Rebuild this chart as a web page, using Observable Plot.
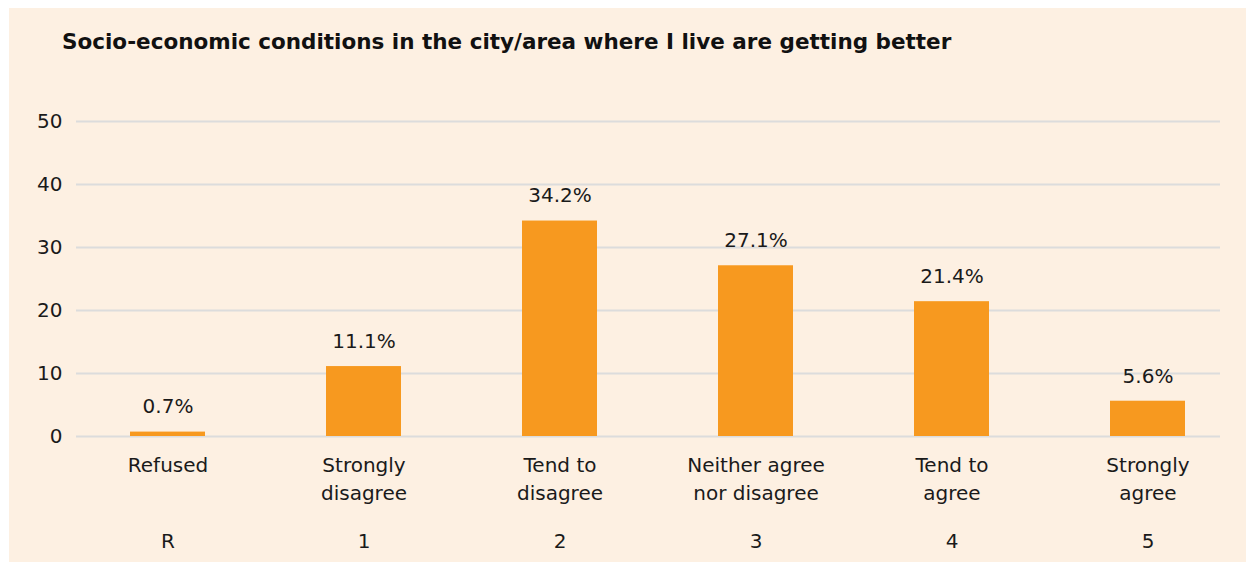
<!DOCTYPE html>
<html>
<head>
<meta charset="utf-8">
<script src="https://cdn.jsdelivr.net/npm/d3@7"></script>
<script src="https://cdn.jsdelivr.net/npm/@observablehq/plot@0.6"></script>
<style>
  html, body { margin: 0; padding: 0; background: #ffffff; }
  #panel { position: absolute; left: 9px; top: 8px; width: 1237px; height: 554px; background: #FDF0E2; overflow: hidden; }
  #title { position: absolute; left: 53px; top: 21px; font-family: "DejaVu Sans", sans-serif; font-weight: 700; font-size: 21.5px; color: #111; white-space: nowrap; }
  #chart { position: absolute; left: 0; top: 72px; }
</style>
</head>
<body>
<div id="panel">
  <div id="title">Socio-economic conditions in the city/area where I live are getting better</div>
  <div id="chart"></div>
</div>
<script>
const codes = ["R", "1", "2", "3", "4", "5"];
const labels = ["Refused", "Strongly\ndisagree", "Tend to\ndisagree", "Neither agree\nnor disagree", "Tend to\nagree", "Strongly\nagree"];
const values = [0.7, 11.1, 34.2, 27.1, 21.4, 5.6];
const yTicks = [0, 10, 20, 30, 40, 50];

const data = codes.map((c, i) => ({code: c, label: labels[i], value: values[i]}));
const font = "'DejaVu Sans', sans-serif";
const fs = 20;

const chart = Plot.plot({
  width: 1237,
  height: 482,
  marginTop: 41,
  marginBottom: 126,
  marginLeft: 61,
  marginRight: 0,
  style: {background: "transparent", fontFamily: font, fontSize: fs + "px", color: "#1a1a1a"},
  x: {domain: codes, paddingInner: 0.617, paddingOuter: 0.3085, axis: null},
  y: {domain: [0, 50], ticks: yTicks, label: null},
  marks: [
    Plot.ruleY(yTicks, {stroke: "#dcdcdc", strokeWidth: 2, insetLeft: 6, insetRight: 26}),
    Plot.axisY({ticks: yTicks, tickSize: 0, tickPadding: 8, label: null, fontSize: fs, fill: "#1a1a1a"}),
    Plot.barY(data, {x: "code", y: "value", fill: "#F7991F"}),
    Plot.text(data, {x: "code", y: "value", text: d => d.value.toFixed(1) + "%", dy: -25, fontSize: fs, fill: "#1a1a1a"}),
    Plot.text(data, {x: "code", y: 0, text: "label", dy: 16, lineAnchor: "top", lineHeight: 1.4, fontSize: fs, fill: "#1a1a1a"}),
    Plot.text(data, {x: "code", y: 0, text: "code", dy: 105, fontSize: fs, fill: "#1a1a1a"})
  ]
});
document.getElementById("chart").appendChild(chart);
</script>
</body>
</html>
